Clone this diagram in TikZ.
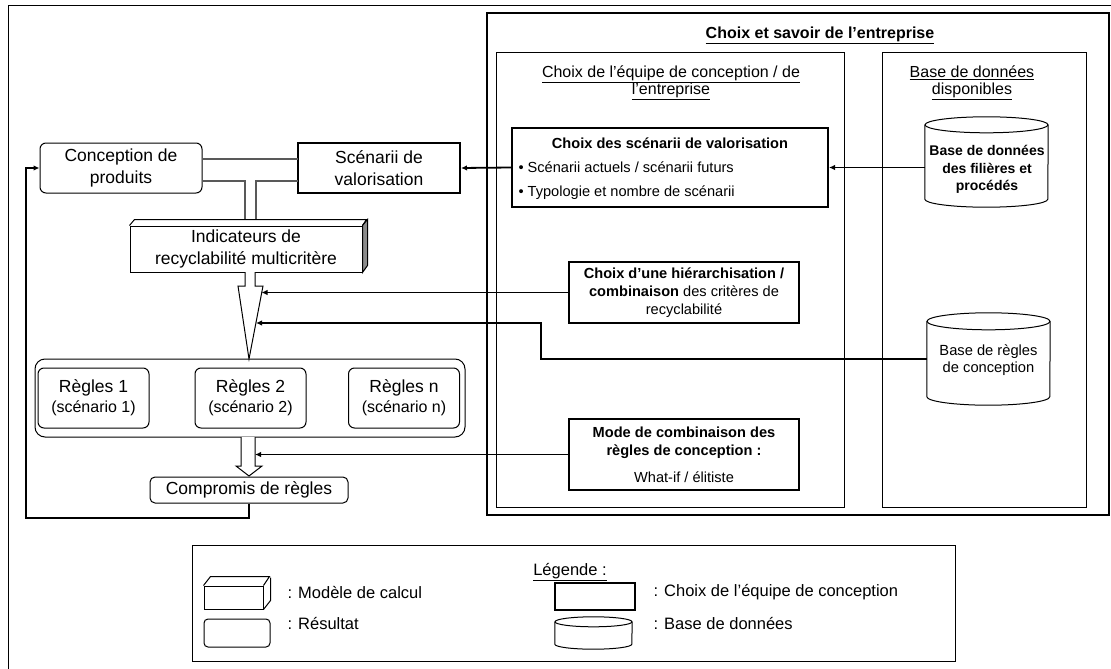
\documentclass[tikz,border=0pt]{standalone}
\usepackage{fontspec}
\setmainfont{Liberation Sans}
\usetikzlibrary{arrows.meta}

\newcommand{\grand}{\fontsize{17.5}{22}\selectfont}
\newcommand{\moyen}{\fontsize{16}{17}\selectfont}
\newcommand{\petit}{\fontsize{14.6}{18}\selectfont}
% contour d'une base de donnees autour d'un noeud
\newcommand{\cylindre}[3]{%
  \draw[trait] ([yshift=-#3]#1.north west) -- ([yshift=#3]#1.south west)
    arc[start angle=180, end angle=360, x radius=#2, y radius=#3]
    -- ([yshift=-#3]#1.north east);
  \draw[trait] ([yshift=-#3]#1.north) ellipse [x radius=#2, y radius=#3];}

\tikzset{
  trait/.style={line width=1pt},
  resultat/.style={draw, trait, rounded corners=6pt, align=center, font=\grand, inner sep=0pt},
  choix/.style={draw, line width=2pt, align=center, font=\petit, inner sep=0pt},
  vide/.style={inner sep=0pt},
  fleche/.style={line width=1.8pt, -{Latex[length=6pt,width=5.5pt]}},
  double/.style={line width=1.1pt, black!65},
}

\begin{document}
\begin{tikzpicture}[x=1pt,y=-1pt]
\useasboundingbox (0,0) rectangle (1111,669);
% cadre exterieur
\draw[line width=1pt] (8,669) -- (8,6) -- (1111,6);

% Choix et savoir de l'entreprise
\draw[line width=2.4pt] (487,13) rectangle (1109,515);
\node[font=\moyen\bfseries] (titre) at (820,35) {\underline{Choix et savoir de l’entreprise}};
\draw[trait] (496,53) rectangle (844,507);
\draw[trait] (882,53) rectangle (1086,507);
\node[font=\moyen, align=center] (titreequipe) at (671,82.5)
  {\underline{Choix de l’équipe de conception / de}\\\underline{l’entreprise}};
\node[font=\moyen, align=center] (titredispo) at (972,82.5)
  {\underline{Base de données}\\\underline{disponibles}};

\node[choix, minimum width=316pt, minimum height=79pt] (choixscen) at (670,167.5) {};
\node[font=\petit\bfseries] (titrescen) at (670,143) {Choix des scénarii de valorisation};
\node[font=\petit, anchor=west] (actuels) at (515,167) {• Scénarii actuels / scénarii futurs};
\node[font=\petit, anchor=west] (typo) at (515,193) {• Typologie et nombre de scénarii};

\node[vide, minimum width=123pt, minimum height=90pt] (bdd1) at (986.5,162) {};
\cylindre{bdd1}{61.5pt}{8pt}
\node[font=\fontsize{14}{17.5}\selectfont\bfseries, align=center] (bdd1txt) at (987,169.5)
  {Base de données\\des filières et\\procédés};

\node[choix, minimum width=230pt, minimum height=61pt] (hier) at (684,292.5)
  {\textbf{Choix d’une hiérarchisation /}\\\textbf{combinaison} des critères de\\recyclabilité};

\node[vide, minimum width=123pt, minimum height=92pt] (bdd2) at (988.5,359) {};
\cylindre{bdd2}{61.5pt}{8.5pt}
\node[font=\fontsize{14.7}{16.6}\selectfont, align=center] (bdd2txt) at (988.5,360)
  {Base de règles\\de conception};

\node[choix, minimum width=230pt, minimum height=71pt] (mode) at (684,454.5)
  {\textbf{Mode de combinaison des}\\\textbf{règles de conception :}\\[9pt]What-if / élitiste};

% partie gauche
\node[resultat, minimum width=162pt, minimum height=50pt] (conception) at (121,168) {Conception de\\produits};
\node[choix, font=\grand, minimum width=162pt, minimum height=50pt] (scenarii) at (379,168) {Scénarii de\\valorisation};
\draw[double] (202,159) -- (298,159);
\draw[double] (202,181) -- (245,181) -- (245,220);
\draw[double] (298,181) -- (256,181) -- (256,220);

\node[draw, trait, fill=white, font=\grand, align=center, minimum width=232pt, minimum height=46pt, inner sep=0pt]
  (indic) at (246,249) {Indicateurs de\\recyclabilité multicritère};
\draw[trait] (indic.north west) -- ++(5,-6) -- ++(232,0) -- (indic.north east);
\draw[trait, fill=black!45] (indic.north east) -- ++(5,-6) -- ++(0,46) -- (indic.south east) -- cycle;
\draw[trait, fill=white] (245,272) -- (245,286) -- (238,286) -- (249,359) -- (263,286) -- (255,286) -- (255,272);

\node[resultat, minimum width=430pt, minimum height=78pt, rounded corners=10pt] (regles) at (250,398) {};
\foreach \x/\k in {93.5/1, 250.5/2, 404/n}
  \node[resultat, font=\fontsize{17.5}{20}\selectfont, minimum width=111pt, minimum height=60pt]
    (r\k) at (\x,398) {Règles \k\\{\fontsize{16}{20}\selectfont(scénario \k)}};

\draw[trait, fill=white] (241,437) -- (241,466) -- (236,466) -- (249,476) -- (262,466) -- (255,466) -- (255,437);
\node[resultat, minimum width=198pt, minimum height=26pt, rounded corners=5pt] (compromis) at (249,490) {Compromis de règles};

% liaisons
\coordinate (entH) at (261.5,292.5);
\coordinate (entB) at (256,323);
\coordinate (coude) at (541,323);
\coordinate (entM) at (255,454.5);
\coordinate (retour) at (26,518);
\draw[fleche] (choixscen.east -| bdd1.west) -- (choixscen.east);
\draw[fleche] (choixscen.west) -- (scenarii.east);
\draw[fleche] (hier.west) -- (entH);
\draw[fleche] (bdd2.west) -| (coude) -- (entB);
\draw[fleche] (mode.west) -- (entM);
\draw[fleche] (compromis.south) |- (retour) |- (conception.west);

% legende
\draw[trait] (192,545) rectangle (955,661);
\node[font=\fontsize{16.5}{20}\selectfont] (legende) at (570,572) {\underline{Légende :}};
\node[draw, trait, vide, minimum width=59pt, minimum height=23pt] (lmodele) at (233.5,597.5) {};
\draw[trait] (lmodele.north west) -- ++(7,-9) -- ++(59,0) -- (lmodele.north east);
\draw[trait] (lmodele.south east) -- ++(7,-9) -- ++(0,-23);
\node[font=\fontsize{16.5}{20}\selectfont, anchor=west] (tmodele) at (284,592) {: Modèle de calcul};
\node[draw, trait, vide, rounded corners=4pt, minimum width=66pt, minimum height=28pt] (lresultat) at (237,633) {};
\node[font=\fontsize{16.5}{20}\selectfont, anchor=west] (tresultat) at (284,623) {: Résultat};
\node[draw, line width=2pt, vide, minimum width=80pt, minimum height=27pt] (lchoix) at (595,596.5) {};
\node[font=\fontsize{16.5}{20}\selectfont, anchor=west] (tchoix) at (650,592) {: Choix de l’équipe de conception};
\node[vide, minimum width=77pt, minimum height=32pt] (lbase) at (593.5,633) {};
\cylindre{lbase}{38.5pt}{5pt}
\node[font=\fontsize{16.5}{20}\selectfont, anchor=west] (tbase) at (650,623) {: Base de données};
\end{tikzpicture}
\end{document}
